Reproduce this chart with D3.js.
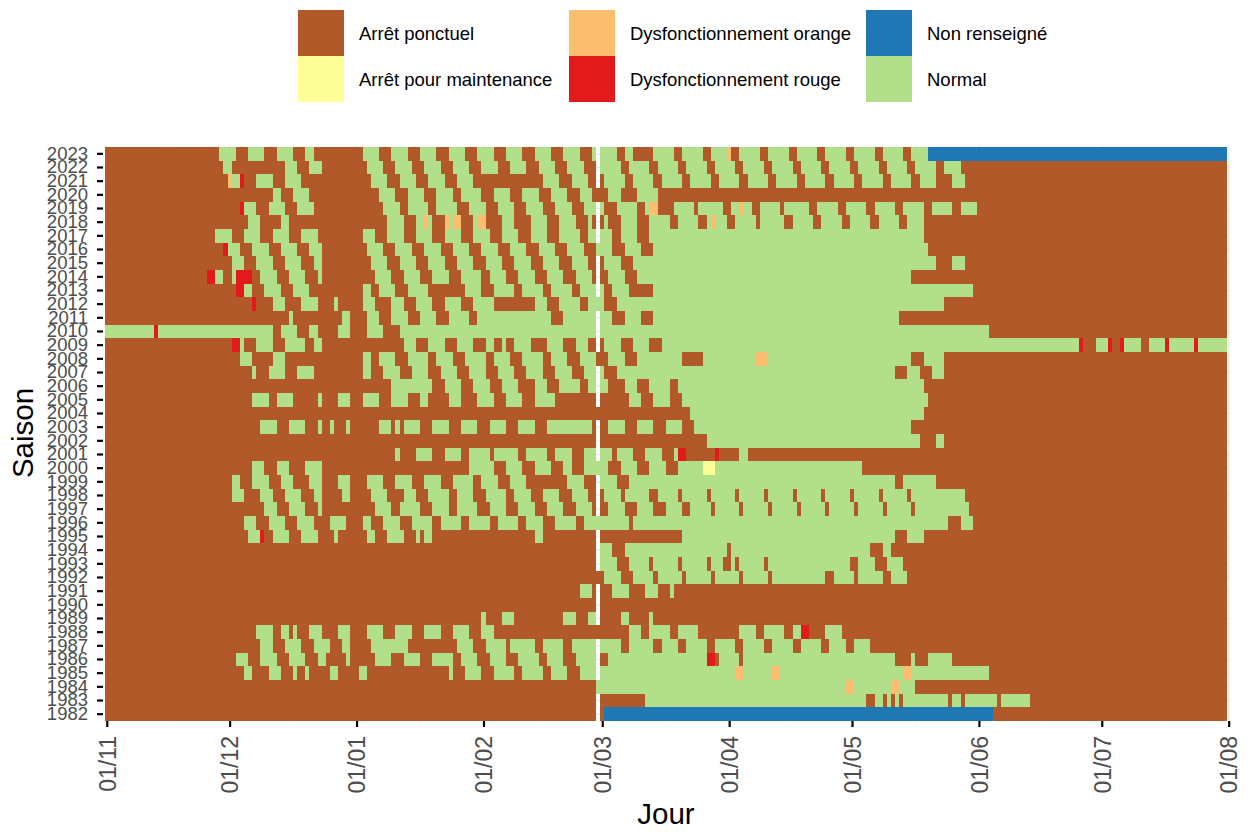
<!DOCTYPE html>
<html>
<head>
<meta charset="utf-8">
<script src="https://cdn.jsdelivr.net/npm/d3@7"></script>
<style>
	html, body { margin: 0; padding: 0; background: #fff; }
	svg { display: block; font-family: "Liberation Sans", Arial, sans-serif; }
</style>
</head>
<body>
<div id="chart"></div>
<script>
// status names, legend order is column by column
const statuses = ['Arrêt ponctuel', 'Arrêt pour maintenance', 'Dysfonctionnement orange', 'Dysfonctionnement rouge', 'Non renseigné', 'Normal'];
const statusColors = ['#B15928', '#FFFF99', '#FDBF6F', '#E31A1C', '#1F78B4', '#B2DF8A'];

const tickDays = [0, 30, 61, 92, 121, 152, 182, 213, 243, 274];
const tickLabels = ['01/11', '01/12', '01/01', '01/02', '01/03', '01/04', '01/05', '01/06', '01/07', '01/08'];
const minorDays = [15, 45.5, 76.5, 106.5, 136.5, 167, 197.5, 228, 258.5];
const feb29 = 120;

// days (0 = 1st november) where the season is "Normal", as start, end pairs
const normal1982 = [];
const normal1983 = [132,186, 188,190, 191,192, 193,194, 195,206, 207,209, 210,218, 219,226];
const normal1984 = [120,181, 183,192, 194,198];
const normal1985 = [34,36, 40,43, 46,47, 49,50, 55,57, 62,64, 84,85, 88,92, 95,100, 102,107, 109,113, 116,120, 121,154, 156,163, 165,195, 197,216];
const normal1986 = [32,35, 38,42, 45,49, 52,54, 59,60, 66,70, 73,77, 80,85, 87,91, 94,98, 101,106, 108,112, 115,120, 123,147, 150,155, 156,193, 197,198, 201,207];
const normal1987 = [38,41, 44,48, 51,55, 58,60, 65,74, 86,90, 93,98, 99,105, 107,112, 114,126, 128,134, 136,140, 142,147, 149,154, 156,161, 163,168, 170,175, 177,181, 183,187];
const normal1988 = [37,41, 43,45, 46,47, 50,53, 57,60, 64,68, 71,75, 78,82, 85,89, 92,95, 128,131, 133,138, 140,145, 155,159, 161,166, 168,170, 176,180];
const normal1989 = [92,93, 97,100, 112,115, 118,120, 126,128, 133,134];
const normal1990 = [];
const normal1991 = [116,119, 124,128, 132,135, 138,139];
const normal1992 = [122,126, 129,134, 135,141, 142,148, 149,155, 156,162, 163,176, 178,183, 184,190, 192,196];
const normal1993 = [121,125, 128,133, 134,140, 141,147, 148,151, 153,154, 155,161, 162,182, 184,188, 191,195];
const normal1994 = [121,124, 127,152, 153,187, 190,192];
const normal1995 = [35,38, 41,45, 48,52, 56,57, 64,66, 69,73, 76,77, 78,80, 105,107, 141,193, 196,200];
const normal1996 = [34,37, 40,44, 47,51, 55,59, 63,65, 68,72, 75,80, 82,87, 89,94, 96,101, 103,107, 110,115, 117,128, 129,206, 209,212];
const normal1997 = [39,42, 45,49, 52,53, 66,70, 72,77, 80,84, 86,91, 94,98, 101,105, 108,112, 115,119, 123,127, 130,134, 137,141, 143,148, 149,155, 156,162, 163,169, 170,176, 177,183, 184,190, 191,197, 198,211];
const normal1998 = [31,34, 38,41, 44,48, 51,53, 58,60, 65,69, 73,76, 79,84, 86,90, 93,98, 100,104, 107,111, 114,118, 122,126, 127,133, 135,140, 141,147, 148,154, 155,161, 162,168, 169,175, 176,182, 183,189, 190,196, 197,210];
const normal1999 = [31,33, 36,40, 43,46, 50,53, 57,60, 64,68, 71,75, 78,82, 85,90, 92,96, 99,103, 113,117, 121,125, 128,193, 195,203];
const normal2000 = [36,39, 42,45, 49,53, 89,95, 98,102, 105,109, 112,114, 117,123, 126,130, 133,137, 140,146, 149,185];
const normal2001 = [71,72, 76,80, 83,87, 89,94, 95,101, 103,108, 110,114, 117,124, 125,129, 132,136, 139,140, 155,157];
const normal2002 = [147,199, 203,205];
const normal2003 = [38,42, 45,49, 52,53, 55,56, 59,60, 67,70, 71,72, 73,77, 80,84, 87,91, 94,98, 101,105, 108,119, 123,127, 130,134, 137,141, 144,197];
const normal2004 = [143,200];
const normal2005 = [36,40, 42,46, 52,53, 57,60, 63,67, 70,74, 77,79, 84,87, 91,95, 98,102, 105,110, 128,131, 134,138, 141,201];
const normal2006 = [70,80, 83,87, 90,94, 97,101, 105,108, 111,116, 118,123, 127,130, 133,138, 140,200];
const normal2007 = [36,37, 40,44, 47,51, 63,65, 68,72, 75,79, 82,86, 89,93, 96,100, 103,107, 110,114, 117,122, 125,193, 196,199, 202,205];
const normal2008 = [33,36, 41,44, 63,65, 67,71, 74,79, 81,85, 88,93, 95,99, 102,107, 109,113, 116,120, 123,127, 130,141, 146,159, 162,197, 200,205];
const normal2009 = [33,34, 37,41, 44,49, 51,53, 73,76, 79,83, 86,90, 93,95, 97,98, 100,104, 108,112, 115,118, 122,126, 129,133, 136,238, 242,245, 249,253, 255,259, 260,266, 267,274];
const normal2010 = [0,12, 13,41, 43,47, 50,52, 57,60, 64,68, 72,216];
const normal2011 = [45,46, 58,60, 64,67, 70,74, 77,81, 84,89, 91,109, 112,124, 127,131, 134,194];
const normal2012 = [41,44, 48,52, 56,57, 63,66, 70,73, 76,80, 83,87, 90,95, 105,108, 111,116, 118,122, 125,205];
const normal2013 = [34,36, 39,43, 46,50, 63,65, 67,71, 74,79, 88,92, 95,100, 102,107, 109,114, 116,122, 124,128, 134,212];
const normal2014 = [27,29, 31,32, 38,42, 45,49, 52,53, 66,70, 73,77, 80,84, 87,92, 94,98, 101,105, 108,112, 115,119, 123,127, 130,197];
const normal2015 = [31,34, 37,41, 44,48, 51,53, 65,69, 72,76, 79,83, 86,90, 93,97, 100,104, 107,111, 114,118, 122,126, 129,203, 207,210];
const normal2016 = [30,33, 36,40, 43,47, 50,53, 64,68, 71,75, 78,82, 85,89, 92,96, 99,103, 106,110, 113,117, 120,124, 127,131, 134,201];
const normal2017 = [27,31, 34,38, 41,45, 48,52, 63,66, 69,73, 76,80, 83,87, 90,94, 97,101, 104,108, 111,116, 118,124, 126,130, 133,200];
const normal2018 = [35,38, 43,45, 69,73, 76,78, 79,80, 84,85, 90,91, 97,100, 104,108, 111,115, 118,119, 122,123, 126,130, 133,138, 140,145, 147,148, 149,152, 154,159, 160,166, 168,173, 175,180, 182,187, 189,194, 196,200];
const normal2019 = [34,37, 40,44, 47,51, 68,72, 74,79, 81,86, 89,93, 96,100, 103,107, 110,114, 117,122, 125,130, 132,133, 139,144, 145,151, 153,155, 156,158, 160,165, 166,172, 174,179, 181,186, 188,193, 195,200, 202,207, 209,213];
const normal2020 = [41,43, 46,50, 67,71, 74,78, 81,85, 87,92, 95,99, 102,106, 109,113, 116,119, 123,126, 130,135];
const normal2021 = [31,33, 37,41, 44,48, 65,69, 72,76, 79,83, 86,90, 107,111, 114,118, 122,127, 129,134, 136,141, 143,148, 150,155, 157,162, 164,169, 171,176, 178,183, 185,190, 192,197, 199,203, 207,210];
const normal2022 = [29,31, 44,47, 50,53, 64,68, 71,75, 78,82, 85,89, 92,96, 99,103, 106,110, 113,117, 121,126, 128,133, 135,140, 142,147, 149,154, 156,161, 163,168, 170,175, 177,182, 184,189, 191,196, 198,203, 205,209];
const normal2023 = [28,32, 35,39, 42,46, 49,51, 63,67, 70,74, 77,81, 84,88, 91,95, 98,102, 105,109, 112,116, 119,125, 127,129, 134,139, 141,146, 148,152, 155,160, 162,167, 169,174, 176,181, 183,188, 190,195, 197,201];

const seasons = d3.range(1982, 2024);
const normalBySeason = [normal1982, normal1983, normal1984, normal1985, normal1986, normal1987, normal1988, normal1989, normal1990, normal1991, normal1992, normal1993, normal1994, normal1995, normal1996, normal1997, normal1998, normal1999, normal2000, normal2001, normal2002, normal2003, normal2004, normal2005, normal2006, normal2007, normal2008, normal2009, normal2010, normal2011, normal2012, normal2013, normal2014, normal2015, normal2016, normal2017, normal2018, normal2019, normal2020, normal2021, normal2022, normal2023];

// everything that is neither normal nor a plain stop: season, start, end, status index
const otherRuns = [
	[1982,122,217,4], [2023,201,274,4],
	[2000,146,149,1],
	[2023,152,153,2], [2021,30,31,2], [2019,133,135,2], [2019,155,156,2], [2018,78,79,2], [2018,83,84,2], [2018,85,87,2], [2018,91,93,2], [2018,148,149,2],
	[2008,159,162,2], [1985,154,156,2], [1985,163,165,2], [1985,195,197,2], [1984,181,183,2], [1984,192,194,2],
	[2021,33,34,3], [2019,33,34,3], [2016,29,30,3], [2014,25,27,3], [2014,32,36,3], [2013,32,34,3], [2012,36,37,3], [2010,12,13,3],
	[2009,31,33,3], [2009,238,239,3], [2009,245,246,3], [2009,248,249,3], [2009,259,260,3], [2009,266,267,3],
	[2001,140,142,3], [2001,149,150,3], [1995,38,39,3], [1988,170,172,3], [1986,147,149,3]
];

const isLeap = season => season % 4 === 0;

// one tile per day, the 29/02 tile does not exist on non leap seasons
const buildTiles = function() {
	const tiles = [];
	seasons.forEach((season, i) => {
		const days = new Array(274).fill(0);
		const runs = normalBySeason[i];
		for (let r = 0; r < runs.length; r += 2) {
			d3.range(runs[r], runs[r + 1]).forEach(d => { days[d] = 5; });
		}
		otherRuns.filter(o => o[0] === season).forEach(o => {
			d3.range(o[1], o[2]).forEach(d => { days[d] = o[3]; });
		});
		days.forEach((status, day) => {
			if (day === feb29 && !isLeap(season)) return;
			tiles.push({season, day, status});
		});
	});
	return tiles;
};

const width = 1250, height = 832;
const panel = {left: 103, right: 1229, top: 147, bottom: 721};

const svg = d3.select('#chart').append('svg')
	.attr('width', width)
	.attr('height', height);

const x = d3.scaleLinear().domain([0, 274]).range([106.8, 1228.7]);
const y = d3.scaleBand().domain(seasons.slice().reverse()).range([panel.top, panel.bottom]);
const color = d3.scaleOrdinal().domain(d3.range(statuses.length)).range(statusColors);

// grid only shows through the missing 29/02 tiles and at the panel border
const grid = svg.append('g').attr('stroke', '#EBEBEB');
grid.selectAll('line.h').data(seasons).join('line')
	.attr('class', 'h')
	.attr('x1', panel.left).attr('x2', panel.right + 1)
	.attr('y1', d => y(d) + y.bandwidth() / 2).attr('y2', d => y(d) + y.bandwidth() / 2)
	.attr('stroke-width', 1.4);
grid.selectAll('line.v').data(tickDays).join('line')
	.attr('class', 'v')
	.attr('x1', d => x(d)).attr('x2', d => x(d))
	.attr('y1', panel.top - 2).attr('y2', panel.bottom + 2)
	.attr('stroke-width', 1.4);
grid.selectAll('line.m').data(minorDays).join('line')
	.attr('class', 'm')
	.attr('x1', d => x(d)).attr('x2', d => x(d))
	.attr('y1', panel.top - 2).attr('y2', panel.bottom + 2)
	.attr('stroke-width', 0.7);

svg.append('g')
	.attr('shape-rendering', 'crispEdges')
	.selectAll('rect')
	.data(buildTiles())
	.join('rect')
		.attr('x', d => x(d.day - 0.5))
		.attr('y', d => y(d.season))
		.attr('width', d => x(d.day + 0.5) - x(d.day - 0.5))
		.attr('height', y.bandwidth())
		.attr('fill', d => color(d.status));

// axes
const axisX = d3.axisBottom(x)
	.tickValues(tickDays)
	.tickFormat((d, i) => tickLabels[i])
	.tickSize(6)
	.tickSizeOuter(0);
const gx = svg.append('g')
	.attr('transform', `translate(0,${panel.bottom})`)
	.call(axisX);
gx.select('.domain').remove();
gx.selectAll('line').attr('stroke', '#000').attr('stroke-width', 2.2);
gx.selectAll('text')
	.attr('transform', 'rotate(-90)')
	.attr('text-anchor', 'end')
	.attr('x', -15)
	.attr('y', 0)
	.attr('dy', '0.36em')
	.style('font-size', '23px')
	.style('font-family', '"Liberation Sans"')
	.attr('fill', '#4D4D4D');

const axisY = d3.axisLeft(y).tickSize(6).tickPadding(9);
const gy = svg.append('g')
	.attr('transform', `translate(${panel.left},0)`)
	.call(axisY);
gy.select('.domain').remove();
gy.selectAll('line').attr('stroke', '#000').attr('stroke-width', 2.2);
gy.selectAll('text')
	.style('font-size', '18.5px')
	.style('font-family', '"Liberation Sans"')
	.attr('fill', '#4D4D4D');

svg.append('text')
	.attr('x', 666)
	.attr('y', 824)
	.attr('text-anchor', 'middle')
	.style('font-size', '29.5px')
	.text('Jour');
svg.append('text')
	.attr('transform', 'translate(33,433) rotate(-90)')
	.attr('text-anchor', 'middle')
	.style('font-size', '29.5px')
	.text('Saison');

// legend, 3 columns of 2 keys
const legendCols = [298, 569, 866];
const keySize = 46;
const legend = svg.append('g').selectAll('g')
	.data(statuses)
	.join('g')
		.attr('transform', (d, i) => `translate(${legendCols[Math.floor(i / 2)]},${10 + (i % 2) * keySize})`);
legend.append('rect')
	.attr('width', keySize)
	.attr('height', keySize)
	.attr('fill', (d, i) => statusColors[i]);
legend.append('text')
	.attr('x', keySize + 15)
	.attr('y', keySize / 2)
	.attr('dy', '0.36em')
	.style('font-size', '18.5px')
	.text(d => d);
</script>
</body>
</html>
